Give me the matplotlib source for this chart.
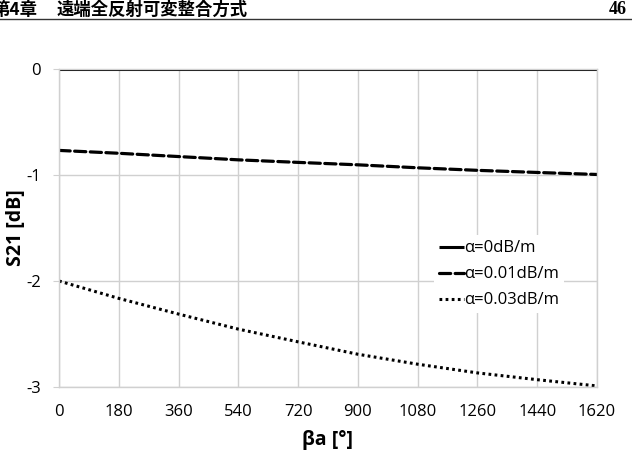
import matplotlib
matplotlib.use("Agg")
import matplotlib.pyplot as plt

# beta*a in degrees
beta_a = [0, 180, 360, 540, 720, 900, 1080, 1260, 1440, 1620]
s21_a0 = [0, 0, 0, 0, 0, 0, 0, 0, 0, 0]
s21_a001 = [-0.768, -0.795, -0.826, -0.857, -0.881, -0.904, -0.932, -0.956, -0.976, -0.995]
s21_a003 = [-2.0, -2.164, -2.312, -2.454, -2.574, -2.691, -2.785, -2.867, -2.931, -2.99]
labels = ["α=0dB/m", "α=0.01dB/m", "α=0.03dB/m"]
y_ticks = [0, -1, -2, -3]

chapter = "第4章"
header_text = "遠端全反射可変整合方式"
page_no = "46"

plt.rcParams["font.family"] = ["Open Sans", "DejaVu Sans"]
plt.rcParams["axes.unicode_minus"] = False

fig = plt.figure(figsize=(6.32, 4.54), dpi=100)
ax = fig.add_axes([59 / 632, 1 - 387 / 454, 538 / 632, 318 / 454])

grid_c = "#d0d0d0"
ax.plot(beta_a, s21_a0, color="black", lw=2.2, solid_capstyle="butt", label=labels[0])
ax.plot(beta_a, s21_a001, color="black", lw=2.3, linestyle=(0, (3.5, 1.4)),
        dash_capstyle="round", label=labels[1])
ax.plot(beta_a, s21_a003, color="black", lw=2.2, linestyle=(0, (0.9, 1.1)),
        label=labels[2])

ax.set_xlim(0, 1620)
ax.set_ylim(-3, 0)
ax.set_xticks(beta_a)
ax.set_yticks(y_ticks)
ax.grid(True, color=grid_c, lw=1)
ax.set_axisbelow(True)
for s in ax.spines.values():
    s.set_color(grid_c)
    s.set_linewidth(1)
ax.tick_params(axis="x", length=0, pad=12, labelsize=12)
ax.tick_params(axis="y", length=4, color=grid_c, pad=9, labelsize=12)

ax.set_xlabel("βa [°]", fontsize=14, fontweight="bold")
ax.set_ylabel("S21 [dB]", fontsize=14, fontweight="bold")
ax.yaxis.set_label_coords(-0.062, 0.5)
ax.xaxis.set_label_coords(0.5, -0.135)

leg = ax.legend(loc="lower right", bbox_to_anchor=(0.955, 0.205), frameon=True,
                fontsize=12, handlelength=1.5, handletextpad=0.05,
                labelspacing=0.6, borderpad=0.3)
leg.get_frame().set_edgecolor("none")
leg.get_frame().set_facecolor("white")
leg.get_frame().set_alpha(1)

# page header
hy = 1 - 10 / 454
fig.text(38 / 632, hy, chapter, fontsize=12.5, fontweight="bold",
         family=["Noto Sans CJK JP"], va="center", ha="right")
fig.text(57 / 632, hy, header_text, fontsize=12.5, fontweight="bold",
         family=["Noto Sans CJK JP"], va="center", ha="left")
fig.text(627 / 632, hy, page_no, fontsize=13, fontweight="bold",
         family=["Liberation Serif"], va="center", ha="right")
fig.add_artist(plt.Line2D([0, 1], [1 - 19 / 454, 1 - 19 / 454],
                          transform=fig.transFigure, color="#333333", lw=1))

fig.savefig("out.png", dpi=100)
